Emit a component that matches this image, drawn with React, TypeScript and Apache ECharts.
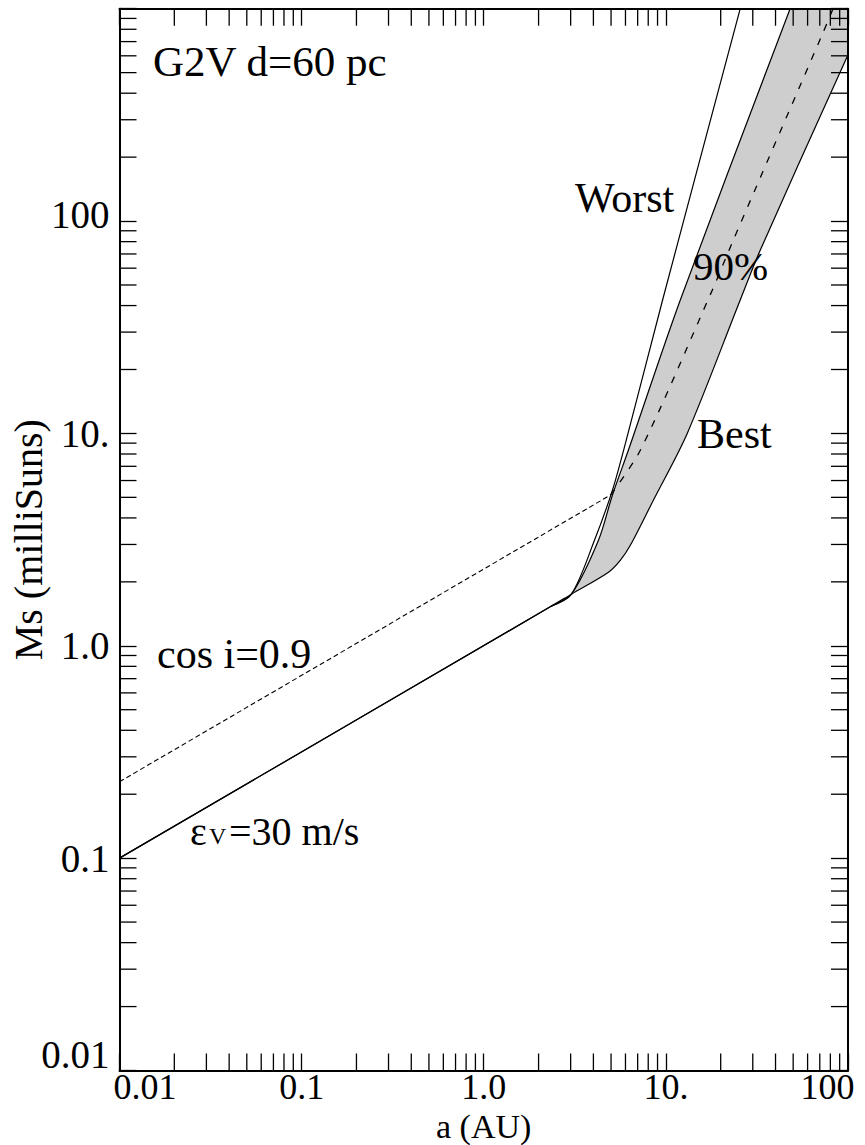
import React, { useEffect, useRef } from 'react';
import * as echarts from 'echarts';

// ---- axes ----
const xRange = [0.01, 100];
const yRange = [0.01, 1000];
const xTickValues = [0.01, 0.1, 1, 10, 100];
const xTickLabels = ['0.01', '0.1', '1.0', '10.', '100'];
const yTickValues = [0.01, 0.1, 1, 10, 100, 1000];
const yTickLabels = ['0.01', '0.1', '1.0', '10.', '100', ''];
const minorMantissas = [2, 3, 4, 5, 6, 7, 8, 9];
const xMinorDecades = [0.01, 0.1, 1, 10];
const yMinorDecades = [0.01, 0.1, 1, 10, 100];

// ---- curves: [a (AU), Ms (milliSuns)] ----
const rvLimit = [[0.01, 0.1], [2.33, 1.53], [3.03, 1.75]];
const cosiLimit = [[0.01, 0.229], [4.97, 5.13]];
const worstCurve = [[3.03, 1.75], [4.06, 3.15], [5.09, 5.41], [6.0, 9.0], [9.69, 43.9], [25.6, 1000]];
const upperCurve = [[3.03, 1.75], [4.27, 3.15], [5.09, 5.13], [6.23, 8.35], [12.0, 42.5], [48.1, 1000]];
const bestCurve = [[3.03, 1.75], [4.84, 2.22], [5.63, 2.53], [6.39, 2.98], [8.55, 4.86], [13.1, 10.0], [25.6, 42.5], [33.0, 73.1], [100, 607]];
const cosiLongPeriod = [[4.97, 5.13], [7.25, 8.35], [18.0, 47.4], [23.1, 78.9], [72.9, 771], [82.8, 1000]];

const FONT = '"Liberation Serif", "Times New Roman", Times, serif';
const TICK = 17;

const sameTick = (v: number, t: number) => Math.abs(Math.log10(v / t)) < 1e-6;

function txt(text: string, x: number, baseline: number, size = 40, align = 'left', lineHeight?: number) {
  return {
    type: 'text',
    x,
    y: baseline - 0.3375 * size,
    z: 10,
    silent: true,
    style: {
      text,
      fontSize: size,
      fontFamily: FONT,
      fill: '#000',
      align,
      verticalAlign: 'middle',
      textAlign: align,
      textVerticalAlign: 'middle',
      ...(lineHeight ? { lineHeight } : {}),
    },
  };
}

function buildOption(): any {
  const xMinor = xMinorDecades.flatMap((d) => minorMantissas.map((m) => [m * d, 1]));
  const yMinor = yMinorDecades.flatMap((d) => minorMantissas.map((m) => [1, m * d]));
  const tickStyle = { stroke: '#000', lineWidth: 1.3 };
  const lineStyle = { color: '#000', width: 1.2 };
  const labelRich = (size: number, extra: any) => ({ fontSize: size, fontFamily: FONT, color: '#000', ...extra });

  const axisCommon = {
    type: 'log',
    logBase: 10,
    z: 5,
    axisLine: { show: true, onZero: false, lineStyle: { color: '#000', width: 2 } },
    axisTick: { show: true, inside: true, length: TICK, lineStyle: { color: '#000', width: 1.3 } },
    splitLine: { show: false },
    minorTick: { show: false },
    minorSplitLine: { show: false },
  };

  const lineBase = {
    type: 'line',
    symbol: 'none',
    smooth: 0.3,
    silent: true,
    xAxisIndex: 0,
    yAxisIndex: 0,
  };

  return {
    animation: false,
    backgroundColor: '#fff',
    grid: { left: 119.5, right: 17, top: 8.7, bottom: 74.5, containLabel: false, outerBoundsMode: 'none' },
    xAxis: [
      {
        ...axisCommon,
        min: xRange[0],
        max: xRange[1],
        position: 'bottom',
        axisLabel: {
          show: true,
          margin: 1.5,
          showMinLabel: true,
          showMaxLabel: true,
          fontSize: 36,
          fontFamily: FONT,
          color: '#000',
          lineHeight: 30,
          formatter: (v: number) => {
            const i = xTickValues.findIndex((t) => sameTick(v, t));
            if (i < 0) return '';
            if (i === 0) return `{first|${xTickLabels[i]}}`;
            if (i === xTickValues.length - 1) return `{last|${xTickLabels[i]}}`;
            return `{n|${xTickLabels[i]}}`;
          },
          rich: {
            n: labelRich(36, { lineHeight: 30 }),
            first: labelRich(36, { lineHeight: 30, padding: [0, 0, 0, 51] }),
            last: labelRich(36, { lineHeight: 30, padding: [0, 41, 0, 0] }),
          },
        },
      },
      {
        ...axisCommon,
        min: xRange[0],
        max: xRange[1],
        position: 'top',
        axisLabel: { show: false },
      },
    ],
    yAxis: [
      {
        ...axisCommon,
        min: yRange[0],
        max: yRange[1],
        position: 'left',
        axisLabel: {
          show: true,
          margin: 10,
          showMinLabel: true,
          showMaxLabel: true,
          fontSize: 39,
          fontFamily: FONT,
          color: '#000',
          formatter: (v: number) => {
            const i = yTickValues.findIndex((t) => sameTick(v, t));
            if (i < 0 || !yTickLabels[i]) return '';
            if (i === 0) return `{first|${yTickLabels[i]}}`;
            if (i === 4) return `{hi|${yTickLabels[i]}}`;
            return `{n|${yTickLabels[i]}}`;
          },
          rich: {
            n: labelRich(39, {}),
            first: labelRich(39, { padding: [0, 0, 33, 0] }),
            hi: labelRich(39, { padding: [0, 0, 14, 0] }),
          },
        },
      },
      {
        ...axisCommon,
        min: yRange[0],
        max: yRange[1],
        position: 'right',
        axisLabel: { show: false },
      },
    ],
    graphic: [
      txt('G2V d=60 pc', 153, 76, 43),
      txt('Worst', 575, 212, 42),
      txt('90%', 693, 280, 41),
      txt('Best', 697, 448, 42),
      txt('cos i=0.9', 157, 668, 42),
      txt('ε', 190, 845, 40),
      txt('V', 209, 844, 24),
      txt('=30 m/s', 229, 845, 40),
      txt('a (AU)', 483.7, 1137.5, 34, 'center', 30),
      {
        type: 'text',
        x: 28.5,
        y: 539.7,
        rotation: Math.PI / 2,
        z: 10,
        silent: true,
        style: {
          text: 'Ms (milliSuns)',
          fontSize: 40,
          fontFamily: FONT,
          fill: '#000',
          align: 'center',
          verticalAlign: 'middle',
          textAlign: 'center',
          textVerticalAlign: 'middle',
        },
      },
    ],
    series: [
      {
        ...lineBase,
        name: 'Best',
        data: rvLimit.slice(0, 2).concat(bestCurve),
        lineStyle,
        areaStyle: { color: '#cecece', opacity: 1, origin: yRange[1] },
        z: 1,
      },
      {
        ...lineBase,
        name: '90% upper',
        data: rvLimit.slice(0, 2).concat(upperCurve),
        lineStyle,
        areaStyle: { color: '#ffffff', opacity: 1, origin: yRange[1] },
        z: 1,
      },
      {
        ...lineBase,
        name: 'Worst',
        data: [rvLimit[1]].concat(worstCurve),
        lineStyle,
        z: 3,
      },
      {
        ...lineBase,
        name: 'cos i=0.9',
        data: cosiLimit,
        smooth: false,
        lineStyle: { color: '#000', width: 1.1, type: [5, 3] },
        z: 3,
      },
      {
        ...lineBase,
        name: 'cos i=0.9 long period',
        data: cosiLongPeriod,
        lineStyle: { color: '#000', width: 1.3, type: [7, 9] },
        z: 3,
      },
      {
        type: 'custom',
        name: 'x minor ticks',
        xAxisIndex: 0,
        yAxisIndex: 0,
        silent: true,
        clip: false,
        z: 4,
        data: xMinor,
        encode: { x: 0, y: 1 },
        renderItem: (params: any, api: any) => {
          const cs = params.coordSys;
          const x = api.coord([api.value(0), 1])[0];
          const top = cs.y;
          const bottom = cs.y + cs.height;
          return {
            type: 'group',
            children: [
              { type: 'line', shape: { x1: x, y1: bottom, x2: x, y2: bottom - TICK }, style: tickStyle },
              { type: 'line', shape: { x1: x, y1: top, x2: x, y2: top + TICK }, style: tickStyle },
            ],
          };
        },
      },
      {
        type: 'custom',
        name: 'y minor ticks',
        xAxisIndex: 0,
        yAxisIndex: 0,
        silent: true,
        clip: false,
        z: 4,
        data: yMinor,
        encode: { x: 0, y: 1 },
        renderItem: (params: any, api: any) => {
          const cs = params.coordSys;
          const y = api.coord([1, api.value(1)])[1];
          const left = cs.x;
          const right = cs.x + cs.width;
          return {
            type: 'group',
            children: [
              { type: 'line', shape: { x1: left, y1: y, x2: left + TICK, y2: y }, style: tickStyle },
              { type: 'line', shape: { x1: right, y1: y, x2: right - TICK, y2: y }, style: tickStyle },
            ],
          };
        },
      },
    ],
  };
}

export default function App() {
  const ref = useRef<HTMLDivElement>(null);
  useEffect(() => {
    document.body.style.margin = '0';
    const chart = echarts.init(ref.current!, null, { renderer: 'svg' });
    chart.setOption(buildOption());
    return () => chart.dispose();
  }, []);
  return <div ref={ref} style={{ width: 865, height: 1145 }} />;
}
